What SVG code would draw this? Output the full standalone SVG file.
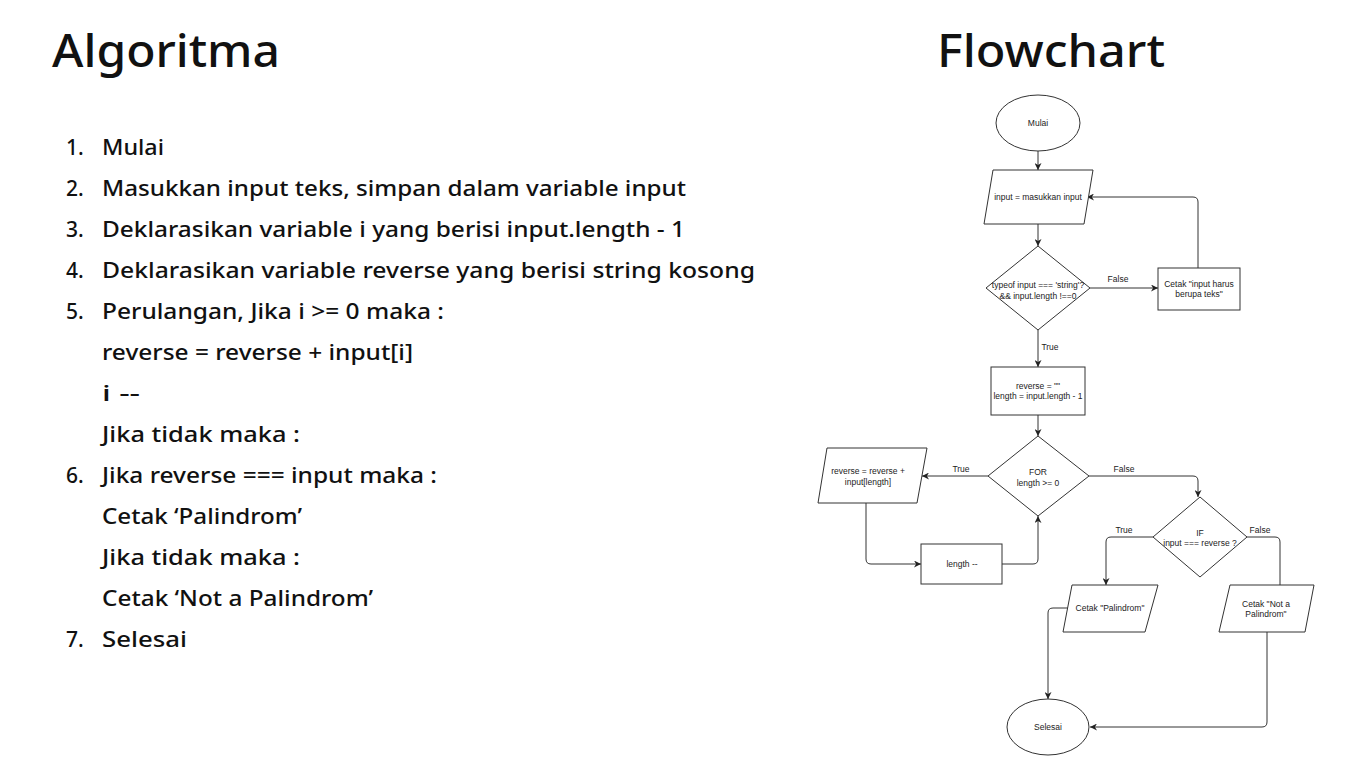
<svg xmlns="http://www.w3.org/2000/svg" width="1366" height="768" viewBox="0 0 1366 768">
<style>
.title{font-family:"Noto Sans","Liberation Sans",sans-serif;font-size:46px;fill:#111;font-weight:500}
.li{font-family:"Noto Sans","Liberation Sans",sans-serif;font-size:21px;fill:#111;font-weight:500}
.n{fill:#fff;stroke:#333;stroke-width:1}
.t{font-family:"Liberation Sans",Arial,sans-serif;font-size:8.5px;fill:#222;text-anchor:middle}
.c{fill:none;stroke:#333;stroke-width:1}
</style>
<defs>
<marker id="ah" viewBox="0 0 10 10" refX="10" refY="5" markerWidth="7" markerHeight="7" markerUnits="userSpaceOnUse" orient="auto">
<path d="M0,0 L10,5 L0,10 L3,5 z" fill="#222"/>
</marker>
</defs>
<rect width="1366" height="768" fill="#fff"/>
<text class="title" x="52" y="67" textLength="228" lengthAdjust="spacingAndGlyphs">Algoritma</text>
<text class="title" x="937" y="67" textLength="228" lengthAdjust="spacingAndGlyphs">Flowchart</text>
<g id="algoritma">
<text class="li" x="66" y="155">1.</text><text class="li" x="102" y="155" textLength="62" lengthAdjust="spacingAndGlyphs">Mulai</text>
<text class="li" x="66" y="196">2.</text><text class="li" x="102" y="196" textLength="584" lengthAdjust="spacingAndGlyphs">Masukkan input teks, simpan dalam variable input</text>
<text class="li" x="66" y="237">3.</text><text class="li" x="102" y="237" textLength="583" lengthAdjust="spacingAndGlyphs">Deklarasikan variable i yang berisi input.length - 1</text>
<text class="li" x="66" y="278">4.</text><text class="li" x="102" y="278" textLength="653" lengthAdjust="spacingAndGlyphs">Deklarasikan variable reverse yang berisi string kosong</text>
<text class="li" x="66" y="319">5.</text><text class="li" x="102" y="319" textLength="342" lengthAdjust="spacingAndGlyphs">Perulangan, Jika i &gt;= 0 maka :</text>
<text class="li" x="102" y="360" textLength="311" lengthAdjust="spacingAndGlyphs">reverse = reverse + input[i]</text>
<text class="li" x="102" y="401" textLength="38" lengthAdjust="spacingAndGlyphs">i --</text>
<text class="li" x="102" y="442" textLength="198" lengthAdjust="spacingAndGlyphs">Jika tidak maka :</text>
<text class="li" x="66" y="483">6.</text><text class="li" x="102" y="483" textLength="335" lengthAdjust="spacingAndGlyphs">Jika reverse === input maka :</text>
<text class="li" x="102" y="524" textLength="200" lengthAdjust="spacingAndGlyphs">Cetak ‘Palindrom’</text>
<text class="li" x="102" y="565" textLength="198" lengthAdjust="spacingAndGlyphs">Jika tidak maka :</text>
<text class="li" x="102" y="606" textLength="271" lengthAdjust="spacingAndGlyphs">Cetak ‘Not a Palindrom’</text>
<text class="li" x="66" y="647">7.</text><text class="li" x="102" y="647" textLength="85" lengthAdjust="spacingAndGlyphs">Selesai</text>
</g>
<g id="connectors">
<path class="c" d="M1038,151 L1038,170" marker-end="url(#ah)"/>
<path class="c" d="M1038,224 L1038,246" marker-end="url(#ah)"/>
<path class="c" d="M1090,288 L1158,288" marker-end="url(#ah)"/>
<text class="t" x="1118" y="282">False</text>
<path class="c" d="M1198,268 L1198,202 Q1198,197 1193,197 L1087,197" marker-end="url(#ah)"/>
<path class="c" d="M1038,330 L1038,367" marker-end="url(#ah)"/>
<text class="t" x="1050" y="350">True</text>
<path class="c" d="M1038,415 L1038,436" marker-end="url(#ah)"/>
<path class="c" d="M988,476 L922,476" marker-end="url(#ah)"/>
<text class="t" x="961" y="472">True</text>
<path class="c" d="M866,503 L866,559 Q866,564 871,564 L921,564" marker-end="url(#ah)"/>
<path class="c" d="M1002,564 L1033,564 Q1038,564 1038,559 L1038,516" marker-end="url(#ah)"/>
<path class="c" d="M1089,476 L1193,476 Q1198,476 1198,481 L1198,497" marker-end="url(#ah)"/>
<text class="t" x="1124" y="472">False</text>
<path class="c" d="M1153,537 L1111,537 Q1106,537 1106,542 L1106,585" marker-end="url(#ah)"/>
<text class="t" x="1124" y="533">True</text>
<path class="c" d="M1247,537 L1275,537 Q1280,537 1280,542 L1280,585"/>
<text class="t" x="1260" y="533">False</text>
<path class="c" d="M1068,608 L1053,608 Q1048,608 1048,613 L1048,699" marker-end="url(#ah)"/>
<path class="c" d="M1267,632 L1267,722 Q1267,727 1262,727 L1090,727" marker-end="url(#ah)"/>
</g>
<g id="mulai">
<ellipse class="n" cx="1038" cy="123" rx="42" ry="28"/>
<text class="t" x="1038" y="126">Mulai</text>
</g>
<g id="input">
<polygon class="n" points="993,170 1093,170 1084,224 984,224"/>
<text class="t" x="1038" y="200">input = masukkan input</text>
</g>
<g id="cek-input">
<polygon class="n" points="1038,246 1090,288 1038,330 986,288"/>
<text class="t" x="1038" y="288">typeof input === 'string'?</text>
<text class="t" x="1038" y="299">&amp;&amp; input.length !==0</text>
</g>
<g id="cetak-error">
<rect class="n" x="1158" y="268" width="82" height="42"/>
<text class="t" x="1199" y="287">Cetak "input harus</text>
<text class="t" x="1199" y="297">berupa teks"</text>
</g>
<g id="deklarasi">
<rect class="n" x="991" y="367" width="94" height="48"/>
<text class="t" x="1038" y="389">reverse = ""</text>
<text class="t" x="1038" y="399">length = input.length - 1</text>
</g>
<g id="for">
<polygon class="n" points="1038,436 1089,476 1038,516 988,476"/>
<text class="t" x="1038" y="475">FOR</text>
<text class="t" x="1038" y="486">length &gt;= 0</text>
</g>
<g id="tambah">
<polygon class="n" points="827,448 927,448 917,503 818,503"/>
<text class="t" x="868" y="474">reverse = reverse +</text>
<text class="t" x="868" y="485">input[length]</text>
</g>
<g id="decrement">
<rect class="n" x="921" y="544" width="81" height="40"/>
<text class="t" x="962" y="567">length --</text>
</g>
<g id="if">
<polygon class="n" points="1200,497 1247,537 1200,577 1153,537"/>
<text class="t" x="1200" y="536">IF</text>
<text class="t" x="1200" y="546">input === reverse ?</text>
</g>
<g id="palindrom">
<polygon class="n" points="1072,585 1158,585 1145,632 1063,632"/>
<text class="t" x="1110" y="611">Cetak "Palindrom"</text>
</g>
<g id="not-palindrom">
<polygon class="n" points="1230,585 1314,585 1305,632 1219,632"/>
<text class="t" x="1266" y="607">Cetak "Not a</text>
<text class="t" x="1266" y="617">Palindrom"</text>
</g>
<g id="selesai">
<ellipse class="n" cx="1048" cy="727" rx="41" ry="28"/>
<text class="t" x="1048" y="730">Selesai</text>
</g>
</svg>
